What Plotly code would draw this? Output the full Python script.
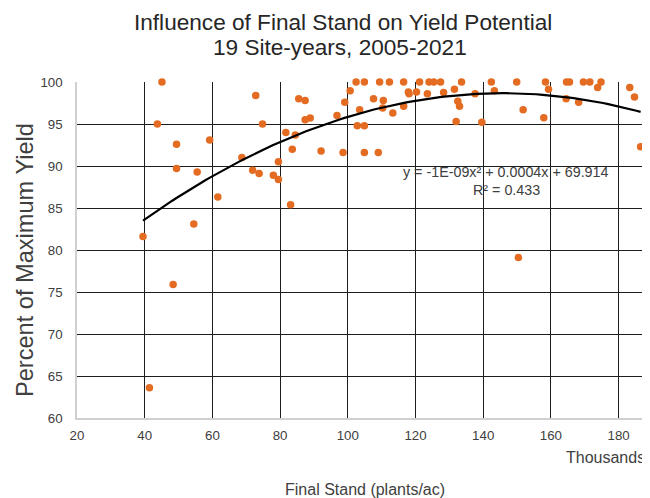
import numpy as np
import plotly.graph_objects as go

# Final stand (thousands of plants/ac) and percent of maximum yield
stand_k = [39.5, 41.4, 43.75, 45.1, 48.4, 49.4, 49.4, 54.5, 55.5, 59.2,
           61.6, 68.7, 71.9, 72.8, 73.8, 74.8, 78.0, 79.5, 79.5, 81.7,
           83.1, 83.6, 84.5, 85.5, 87.4, 87.4, 88.9, 92.1, 96.8, 98.6,
           99.1, 100.7, 102.45, 102.8, 103.5, 104.9, 104.9, 104.9, 107.6, 109.0,
           109.4, 110.3, 110.5, 112.3, 113.3, 116.5, 116.5, 117.9, 118.1, 120.3,
           121.2, 123.5, 124.0, 125.4, 127.4, 128.3, 131.5, 132.0, 132.5, 133.0,
           133.6, 137.6, 139.6, 142.4, 143.3, 149.9, 150.4, 151.8, 157.9, 158.4,
           159.3, 164.5, 164.6, 165.5, 168.2, 169.6, 171.5, 173.8, 174.8, 183.3,
           184.7, 186.5]
yield_pct = [81.6, 63.6, 95.0, 100.0, 75.9, 92.6, 89.7, 83.1, 89.3, 93.1,
             86.3, 91.0, 89.5, 98.4, 89.1, 95.0, 88.9, 90.5, 88.4, 94.0,
             85.4, 92.0, 93.7, 98.0, 97.8, 95.5, 95.7, 91.8, 96.0, 91.6,
             97.6, 98.95, 100.0, 94.8, 96.7, 100.0, 94.8, 91.6, 98.0, 91.6,
             100.0, 96.9, 97.8, 100.0, 96.3, 100.0, 97.1, 98.8, 98.6, 98.8,
             100.0, 98.6, 100.0, 100.0, 100.0, 98.75, 99.15, 95.3, 97.7, 97.1,
             100.0, 98.6, 95.2, 100.0, 98.95, 100.0, 79.1, 96.7, 95.75, 100.0,
             99.15, 98.0, 100.0, 100.0, 97.6, 100.0, 100.0, 99.35, 100.0, 99.35,
             98.2, 92.3]

x_ticks = [20, 40, 60, 80, 100, 120, 140, 160, 180]
y_ticks = [60, 65, 70, 75, 80, 85, 90, 95, 100]

title_lines = ["Influence of Final Stand on Yield Potential", "19 Site-years, 2005-2021"]
equation_text = "y = -1E-09x² + 0.0004x + 69.914"
r2_text = "R² = 0.433"

# polynomial (order 2) trendline fitted to the data
coef = np.polyfit(np.array(stand_k), np.array(yield_pct), 2)
trend_x = np.linspace(min(stand_k), max(stand_k), 120)
trend_y = np.polyval(coef, trend_x)

FONT = "Liberation Sans, Arial, sans-serif"
TXT = "#404040"

# the page body adds an 8px offset; figure is sized to fill the rest of the window
OFF = 8
W, H = 650 - OFF, 498 - OFF
L, R, T, B = 77 - OFF, 650 - OFF, 81.5 - OFF, 418.3 - OFF

def paper(px, py):
    """reference-screen pixel -> paper coordinates"""
    return (px - OFF - L) / (R - L), (B - (py - OFF)) / (B - T)

def ann(text, px, py, size, color=TXT, angle=0, xanchor="center"):
    x, y = paper(px, py)
    return dict(text=text, x=x, y=y, xref="paper", yref="paper", showarrow=False,
                textangle=angle, xanchor=xanchor, yanchor="middle",
                font=dict(size=size, color=color, family=FONT))

fig = go.Figure()
fig.add_trace(go.Scatter(
    x=stand_k, y=yield_pct, mode="markers",
    marker=dict(color="#E46C22", size=7.5, line=dict(width=0)),
    cliponaxis=False, showlegend=False, hoverinfo="x+y"))
fig.add_trace(go.Scatter(
    x=trend_x, y=trend_y, mode="lines",
    line=dict(color="black", width=2.2),
    showlegend=False, hoverinfo="skip"))

fig.update_layout(
    width=W, height=H,
    margin=dict(l=L, r=W - R, t=T, b=H - B, pad=0),
    paper_bgcolor="white", plot_bgcolor="white",
    font=dict(family=FONT, color=TXT, size=13.3),
    xaxis=dict(
        range=[20, 20 + (R - L) / 3.385], tickvals=x_ticks,
        ticktext=[str(v) for v in x_ticks],
        showgrid=True, gridcolor="#1e1e1e", gridwidth=1,
        showline=True, linecolor="#d0d0d0", linewidth=1.5,
        zeroline=False, ticks="", ticklabelstandoff=4,
        tickfont=dict(size=13.3, color=TXT)),
    yaxis=dict(
        range=[60, 100], tickvals=y_ticks, ticktext=[str(v) for v in y_ticks],
        showgrid=True, gridcolor="#1e1e1e", gridwidth=1,
        showline=True, linecolor="#d0d0d0", linewidth=1.5,
        zeroline=False, ticks="", ticklabelstandoff=10,
        tickfont=dict(size=13.3, color=TXT)),
    annotations=[
        ann(title_lines[0], 343, 22, 22.6, "#262626"),
        ann(title_lines[1], 340, 47, 22.6, "#262626"),
        ann("Percent of Maximum Yield", 25, 260, 23.6, angle=-90),
        ann("Final Stand (plants/ac)", 365, 490, 16),
        ann("Thousands", 647, 458, 16, xanchor="right"),
        ann(equation_text, 505.5, 171.7, 14.3),
        ann(r2_text, 506, 189.3, 14.3),
    ],
)

fig.write_html("out.html")
